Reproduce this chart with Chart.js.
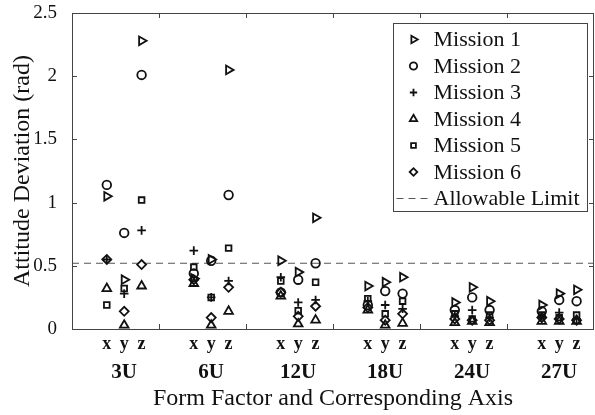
<!DOCTYPE html>
<html>
<head>
<meta charset="utf-8">
<title>Attitude Deviation</title>
<script src="https://cdn.jsdelivr.net/npm/chart.js@4.4.0/dist/chart.umd.min.js"></script>
<style>
  html, body { margin: 0; padding: 0; background: #fff; overflow: hidden; }
  #wrap { position: relative; width: 595px; height: 415px; }
</style>
</head>
<body>
<div id="wrap"><canvas id="myChart"></canvas></div>
<script>
'use strict';

// x position of each axis column, three per form factor
let columnPositions = [2, 3, 4, 7, 8, 9, 12, 13, 14, 17, 18, 19, 22, 23, 24, 27, 28, 29];
let axisLetters = ['x', 'y', 'z'];
let formFactors = ['3U', '6U', '12U', '18U', '24U', '27U'];
let groupCenters = [3, 8, 13, 18, 23, 28];
let xTickMarks = [5, 10, 15, 20, 25];
let yTicks = [0, 0.5, 1, 1.5, 2, 2.5];
let xMin = 0;
let xMax = 30;

// attitude deviation (rad), order: 3U x y z, 6U x y z, ...
let mission1 = [1.05, 0.39, 2.28, 0.40, 0.55, 2.05, 0.54, 0.45, 0.88, 0.34, 0.37, 0.41, 0.21, 0.33, 0.22, 0.19, 0.28, 0.31];
let mission2 = [1.14, 0.76, 2.01, 0.44, 0.54, 1.06, 0.29, 0.39, 0.52, 0.19, 0.30, 0.28, 0.15, 0.25, 0.15, 0.14, 0.23, 0.22];
let mission3 = [0.55, 0.28, 0.78, 0.62, 0.25, 0.38, 0.41, 0.21, 0.23, 0.22, 0.19, 0.16, 0.10, 0.15, 0.09, 0.10, 0.13, 0.08];
let mission4 = [0.32, 0.03, 0.34, 0.36, 0.03, 0.14, 0.26, 0.04, 0.07, 0.15, 0.03, 0.045, 0.05, 0.06, 0.05, 0.06, 0.06, 0.06];
let mission5 = [0.19, 0.32, 1.02, 0.49, 0.25, 0.64, 0.38, 0.145, 0.37, 0.24, 0.12, 0.22, 0.12, 0.08, 0.11, 0.11, 0.09, 0.11];
let mission6 = [0.55, 0.14, 0.51, 0.39, 0.09, 0.33, 0.29, 0.10, 0.18, 0.17, 0.07, 0.12, 0.08, 0.07, 0.07, 0.09, 0.08, 0.07];
let allowableLimit = 0.52;

let serif = 'Liberation Serif, Times New Roman, serif';
let ink = '#111';

function toPoints(values){
  let pts = [];
  for(let i = 0; i < values.length; i++){
    pts.push({x: columnPositions[i], y: values[i]});
  }
  return pts;
}

function missionSet(label, values, style, radius, rotation){
  return {
    type: 'scatter',
    label: label,
    data: toPoints(values),
    pointStyle: style,
    pointRadius: radius,
    pointRotation: rotation || 0,
    pointBorderWidth: 1.8,
    pointBorderColor: ink,
    pointBackgroundColor: 'rgba(0,0,0,0)',
    showLine: false
  };
}

// blank ticks at both ends keep chart.js from padding the plot for edge labels
function edgeTicks(positions){
  return [xMin].concat(positions, [xMax]).map(v => ({value: v}));
}

function letterFor(value){
  let i = columnPositions.indexOf(value);
  return i < 0 ? '' : axisLetters[i % 3];
}

function groupFor(value){
  let i = groupCenters.indexOf(value);
  return i < 0 ? '' : formFactors[i];
}

// invisible tick marks push the labels down without side padding
function hiddenTicks(len){
  return {
    display: true,
    drawOnChartArea: false,
    drawTicks: true,
    tickLength: len,
    color: 'rgba(0,0,0,0)',
    tickColor: 'rgba(0,0,0,0)'
  };
}

// inward tick marks and the full box round the plot
const boxAxes = {
  id: 'boxAxes',
  afterDatasetsDraw(chart){
    const ctx = chart.ctx;
    const a = chart.chartArea;
    const xs = chart.scales.x;
    const ys = chart.scales.y;
    ctx.save();
    ctx.strokeStyle = '#444';
    ctx.lineWidth = 1;
    ctx.beginPath();
    yTicks.forEach(v => {
      let py = Math.round(ys.getPixelForValue(v)) + 0.5;
      ctx.moveTo(a.left, py); ctx.lineTo(a.left + 5, py);
      ctx.moveTo(a.right, py); ctx.lineTo(a.right - 5, py);
    });
    xTickMarks.forEach(v => {
      let px = Math.round(xs.getPixelForValue(v)) + 0.5;
      ctx.moveTo(px, a.bottom); ctx.lineTo(px, a.bottom - 5);
      ctx.moveTo(px, a.top); ctx.lineTo(px, a.top + 5);
    });
    ctx.stroke();
    ctx.strokeRect(Math.round(a.left) + 0.5, Math.round(a.top) + 0.5,
      Math.round(a.right - a.left) - 1, Math.round(a.bottom - a.top));
    ctx.restore();
  }
};

// legend box sitting inside the plot, top right
const boxLegend = {
  id: 'boxLegend',
  afterDraw(chart){
    const ctx = chart.ctx;
    const a = chart.chartArea;
    const sets = chart.data.datasets;
    const w = 194;
    const rowH = 26.5;
    const left = Math.round(a.right - 7 - w) + 0.5;
    const top = Math.round(a.top + 10) + 0.5;
    const h = 16 + (sets.length - 1) * rowH + 13;
    ctx.save();
    ctx.fillStyle = '#fff';
    ctx.fillRect(left, top, w, h);
    ctx.strokeStyle = '#444';
    ctx.lineWidth = 1;
    ctx.strokeRect(left, top, w, h);
    ctx.font = '22px ' + serif;
    ctx.textBaseline = 'middle';
    sets.forEach((ds, i) => {
      let cy = top + 16 + i * rowH;
      ctx.strokeStyle = ink;
      if(ds.type === 'line'){
        ctx.lineWidth = 1.2;
        ctx.strokeStyle = '#555';
        ctx.setLineDash([7, 5]);
        ctx.beginPath();
        ctx.moveTo(left + 3, cy);
        ctx.lineTo(left + 38, cy);
        ctx.stroke();
        ctx.setLineDash([]);
      } else {
        ctx.lineWidth = 1.8;
        ctx.fillStyle = 'rgba(0,0,0,0)';
        Chart.helpers.drawPoint(ctx, {
          pointStyle: ds.pointStyle,
          rotation: ds.pointRotation,
          radius: ds.pointRadius * 0.85,
          borderWidth: 1.8
        }, left + 20, cy);
      }
      ctx.fillStyle = ink;
      ctx.fillText(ds.label, left + 40, cy + 1);
    });
    ctx.restore();
  }
};

const ctx = document.getElementById('myChart');

new Chart(ctx, {
  data: {
    datasets: [
      missionSet('Mission 1', mission1, 'triangle', 5, 90),
      missionSet('Mission 2', mission2, 'circle', 4.3),
      missionSet('Mission 3', mission3, 'cross', 4.3),
      missionSet('Mission 4', mission4, 'triangle', 5),
      missionSet('Mission 5', mission5, 'rect', 4),
      missionSet('Mission 6', mission6, 'rectRot', 4.5),
      {
        type: 'line',
        label: 'Allowable Limit',
        data: [{x: xMin, y: allowableLimit}, {x: xMax, y: allowableLimit}],
        borderColor: '#555',
        borderWidth: 1.2,
        borderDash: [7, 5],
        pointRadius: 0,
        fill: false
      }
    ]
  },
  options: {
    responsive: true,
    maintainAspectRatio: false,
    animation: false,
    layout: {
      autoPadding: false,
      padding: { top: 13, right: 1, left: 0, bottom: 0 }
    },
    plugins: {
      legend: { display: false },
      tooltip: { enabled: false }
    },
    scales: {
      x: {
        type: 'linear',
        position: 'bottom',
        min: xMin,
        max: xMax,
        weight: 0,
        border: { display: false },
        grid: hiddenTicks(5),
        afterBuildTicks: scale => { scale.ticks = edgeTicks(columnPositions); },
        afterFit: scale => { scale.height = 26; },
        ticks: {
          autoSkip: false,
          maxRotation: 0,
          padding: 0,
          color: ink,
          font: { family: serif, size: 18, weight: 'bold' },
          callback: value => letterFor(value)
        }
      },
      x2: {
        type: 'linear',
        position: 'bottom',
        min: xMin,
        max: xMax,
        weight: 1,
        border: { display: false },
        grid: hiddenTicks(5),
        afterBuildTicks: scale => { scale.ticks = edgeTicks(groupCenters); },
        afterFit: scale => { scale.height = 60; },
        ticks: {
          autoSkip: false,
          maxRotation: 0,
          padding: 0,
          color: ink,
          font: { family: serif, size: 21, weight: 'bold' },
          callback: value => groupFor(value)
        },
        title: {
          display: true,
          text: 'Form Factor and Corresponding Axis',
          color: ink,
          font: { family: serif, size: 24 },
          padding: { top: 0, bottom: 2 }
        }
      },
      y: {
        type: 'linear',
        min: 0,
        max: 2.5,
        border: { display: false },
        grid: { display: false, drawTicks: false },
        afterBuildTicks: scale => { scale.ticks = yTicks.map(v => ({value: v})); },
        afterFit: scale => {
          scale.width = 72;
          scale.paddingTop = 0;
          scale.paddingBottom = 0;
        },
        ticks: {
          padding: 15,
          color: ink,
          font: { family: serif, size: 19 },
          callback: value => String(value)
        },
        title: {
          display: true,
          text: 'Attitude Deviation (rad)',
          color: ink,
          font: { family: serif, size: 24 },
          padding: { top: 8, bottom: 0 }
        }
      }
    }
  },
  plugins: [boxAxes, boxLegend]
});
</script>
</body>
</html>
